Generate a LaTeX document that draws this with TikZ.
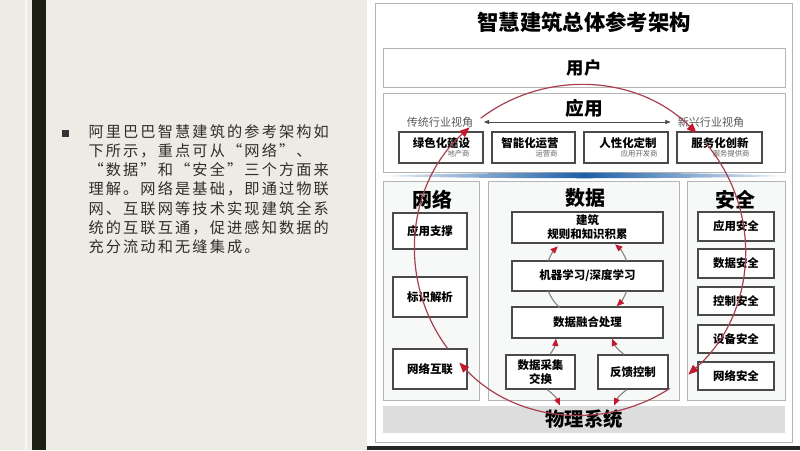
\documentclass[tikz,border=0pt]{standalone}
\usepackage{fontspec}
\setmainfont{Noto Sans CJK SC}
\newfontfamily\bodyfont{Noto Sans CJK SC}[LetterSpace=14]
\usetikzlibrary{arrows.meta,calc}

\definecolor{slidebg}{HTML}{EEEBE4}
\definecolor{slidebar}{HTML}{1C1F14}
\definecolor{boxline}{HTML}{4A4A4A}
\definecolor{paneline}{HTML}{B4B4B4}
\definecolor{panefill}{HTML}{F7F8F8}
\definecolor{loopred}{HTML}{A8404F}
\definecolor{headred}{HTML}{C4182F}
\definecolor{bandblue}{HTML}{1E5FA6}
\definecolor{physgrey}{HTML}{DDDDDD}

\tikzset{every picture/.style={line width=0.75pt}}
\tikzset{
  pane/.style={draw=paneline, fill=panefill},
  box/.style={draw=boxline, fill=white, line width=0.9pt, inner sep=0pt,
    font=\fontsize{8.6}{10.5}\selectfont\bfseries, align=center},
  boxtxt/.style={inner sep=0pt, font=\fontsize{8.6}{10}\selectfont\bfseries},
  title/.style={inner sep=0pt, font=\fontsize{15}{15}\selectfont\bfseries},
  viewtxt/.style={inner sep=0pt, text=black!65, font=\fontsize{8.3}{9}\selectfont},
  subtxt/.style={inner sep=0pt, text=black!60, font=\fontsize{5.5}{6}\selectfont, anchor=east},
  loop/.style={draw=loopred, line width=0.9pt, -{Triangle[length=7.5pt,width=6pt,color=headred]}},
  cyc/.style={draw=black!50, line width=0.8pt, -{Triangle[length=5.5pt,width=4.5pt,color=headred]}},
}

\begin{document}
\begin{tikzpicture}[x=0.75pt,y=0.75pt,yscale=-1,xscale=1]
		%slide background
		\fill[slidebg] (0,0) rectangle (800,450);
		\fill[white!60!slidebg] (25,0) rectangle (27,450);
		\fill[slidebar] (32,0) rectangle (46,450);
		\fill[white] (367,0) rectangle (800,446);
		\fill[black!85] (367,446) rectangle (800,450);
		\useasboundingbox (0,0) rectangle (800,450);

		% Bullet and Text Node
		\draw (65,133) node [fill=black!80, minimum size=5.25pt, inner sep=0pt] (dot) {};
		\draw (88,124) node [anchor=north west, inner sep=0pt, align=left, text=black!82,
		  font=\bodyfont\fontsize{11.4}{14.4}\selectfont] (blurb)
		  {阿里巴巴智慧建筑的参考架构如\\下所示，重点可从“网络”、\\“数据”和“安全”三个方面来\\理解。网络是基础，即通过物联\\网、互联网等技术实现建筑全系\\统的互联互通，促进感知数据的\\充分流动和无缝集成。};

		%outer frame
		\draw[paneline] (375,3) rectangle (792,442);

		% Text Node
		\draw (584,22) node [inner sep=0pt, font=\fontsize{16}{16}\selectfont\bfseries] (head) {智慧建筑总体参考架构};

		%user layer
		\draw (584,67.5) node [pane, fill=white, minimum width=301.5pt, minimum height=29.25pt,
		  font=\fontsize{13}{13}\selectfont\bfseries] (user) {用户};

		%application layer
		\draw[paneline] (383,93) rectangle (785,172);
		\draw (584,108) node [title, font=\fontsize{14}{14}\selectfont\bfseries] (app) {应用};
		\draw (440,122) node [viewtxt] (oldview) {传统行业视角};
		\draw (711,122) node [viewtxt] (newview) {新兴行业视角};
		\draw[black!70, line width=0.6pt, {Triangle[length=4pt,width=3pt]}-{Triangle[length=4pt,width=3pt]}]
		  ([xshift=7.5pt]oldview.east) -- ([xshift=-5pt]newview.west);

		\draw (441,147.5) node [box, minimum width=63pt, minimum height=23.25pt] (green) {};
		\draw (441.5,143) node [boxtxt] (greent) {绿色化建设};
		\draw (470,154) node [subtxt] (greens) {地产商};
		\draw (533.5,147.5) node [box, minimum width=62.25pt, minimum height=23.25pt] (smart) {};
		\draw (530,143) node [boxtxt] (smartt) {智能化运营};
		\draw (558,154) node [subtxt] (smarts) {运营商};
		\draw (626,147.5) node [box, minimum width=63pt, minimum height=23.25pt] (human) {};
		\draw (628,143) node [boxtxt] (humant) {人性化定制};
		\draw (658,154) node [subtxt] (humans) {应用开发商};
		\draw (719.5,147.5) node [box, minimum width=63.75pt, minimum height=23.25pt] (serve) {};
		\draw (720,143) node [boxtxt] (servet) {服务化创新};
		\draw (750,154) node [subtxt] (serves) {服务提供商};

		%blue band
		\shade[left color=bandblue!10, right color=bandblue!10, middle color=bandblue]
		  (383,176) .. controls (480,171.5) and (690,171.5) .. (785,176)
		  .. controls (690,179) and (480,179) .. (383,176) -- cycle;

		%network column
		\draw[pane] (383,181) rectangle (479,400);
		\draw (432,200) node [title] (net) {网络};
		\draw (430,231) node [box, minimum width=55.5pt, minimum height=27pt] (nw1) {应用支撑};
		\draw (430,297) node [box, minimum width=55.5pt, minimum height=30pt] (nw2) {标识解析};
		\draw (430,369) node [box, minimum width=55.5pt, minimum height=30pt] (nw3) {网络互联};

		%data column
		\draw[pane] (488,181) rectangle (679,400);
		\draw (585,198) node [title] (data) {数据};
		\draw (587.5,227.5) node [box, minimum width=113.25pt, minimum height=23.25pt] (kb) {建筑\\规则和知识积累};
		\draw (587.5,276) node [box, minimum width=113.25pt, minimum height=22.5pt] (ml) {机器学习/深度学习};
		\draw (587.5,322.5) node [box, minimum width=113.25pt, minimum height=23.25pt] (fu) {数据融合处理};
		\draw (540.5,372) node [box, minimum width=51.75pt, minimum height=25.5pt] (daq) {数据采集\\交换};
		\draw (633,372) node [box, minimum width=52.5pt, minimum height=25.5pt] (fb) {反馈控制};

		%security column
		\draw[pane] (687,181) rectangle (785,400);
		\draw (735,200) node [title] (sec) {安全};
		\draw (736,226.5) node [box, minimum width=57pt, minimum height=21.75pt] (s1) {应用安全};
		\draw (736,263.5) node [box, minimum width=57pt, minimum height=21.75pt] (s2) {数据安全};
		\draw (736,301) node [box, minimum width=57pt, minimum height=21pt] (s3) {控制安全};
		\draw (736,339) node [box, minimum width=57pt, minimum height=21pt] (s4) {设备安全};
		\draw (736,376) node [box, minimum width=57pt, minimum height=21pt] (s5) {网络安全};

		%physical layer
		\draw (584,419.5) node [fill=physgrey, minimum width=301.5pt, minimum height=20.25pt, inner sep=0pt,
		  font=\fontsize{14.5}{14.5}\selectfont\bfseries] (phys) {物理系统};

		%data cycle
		\draw[cyc] ($(ml)+(201:42)$) arc[start angle=201, end angle=225, radius=42];
		\draw[cyc] ($(ml)+(339:42)$) arc[start angle=339, end angle=311, radius=42];
		\draw[cyc] ($(ml)+(21:42)$) arc[start angle=21, end angle=46, radius=42];
		\draw[draw=black!50, line width=0.8pt] ($(ml)+(159:42)$) arc[start angle=159, end angle=131, radius=42];
		\draw[cyc] ($(daq.north)+(9.5,0)$) to[bend left=15] ($(fu.south)+(-31.5,0)$);
		\draw[cyc] ($(fb.north)+(-9,0)$) to[bend right=15] ($(fu.south)+(24.5,0)$);
		\draw[cyc] ($(daq.south)+(6.5,0)$) to[bend right=15] ($(phys.north)+(-24,0)$);
		\draw[cyc] ($(fb.south)+(-6,0)$) to[bend left=15] ($(phys.north)+(30,0)$);

		%big loop
		\coordinate (hub) at (580,250);
		\coordinate (loopL) at ($(hub)+(143:165)$);
		\coordinate (loopT) at ($(hub)+(233:165)$);
		\coordinate (loopR) at ($(hub)+(320:165)$);
		\coordinate (loopB) at ($(hub)+(57:165)$);
		\draw[loop] (loopL) arc[start angle=143, end angle=228, radius=165];
		\draw[loop] (loopT) arc[start angle=233, end angle=315, radius=165];
		\draw[loop] (loopR) arc[start angle=320, end angle=409, radius=165];
		\draw[loop] (loopB) arc[start angle=57, end angle=137, radius=165];

		\end{tikzpicture}
\end{document}
